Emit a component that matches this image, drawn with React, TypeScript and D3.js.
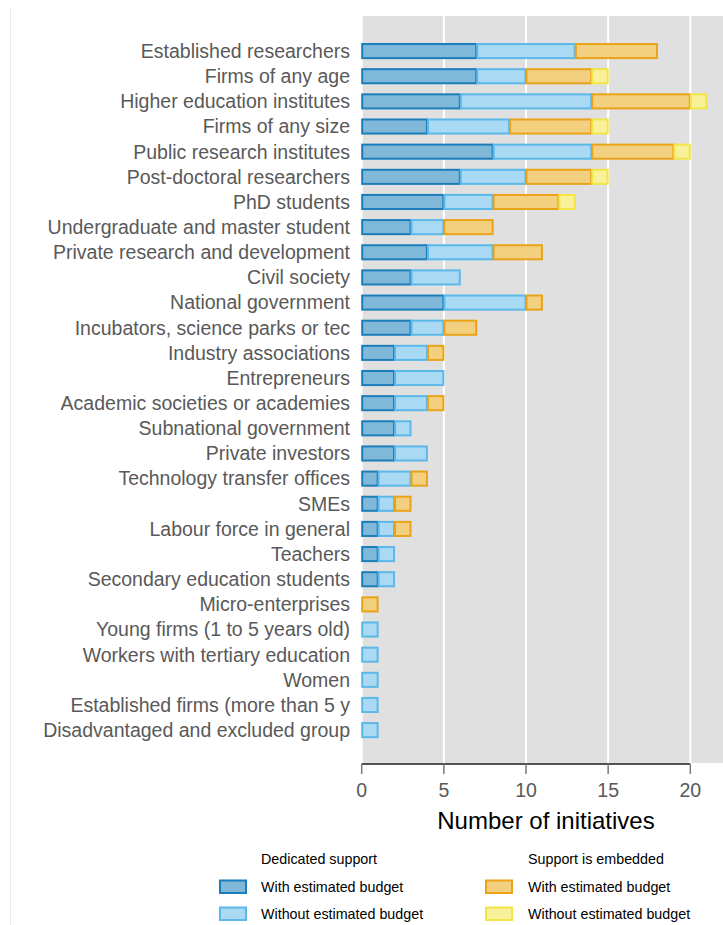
import React from "react";
import * as d3 from "d3";

const categories = [
  "Established researchers",
  "Firms of any age",
  "Higher education institutes",
  "Firms of any size",
  "Public research institutes",
  "Post-doctoral researchers",
  "PhD students",
  "Undergraduate and master student",
  "Private research and development",
  "Civil society",
  "National government",
  "Incubators, science parks or tec",
  "Industry associations",
  "Entrepreneurs",
  "Academic societies or academies",
  "Subnational government",
  "Private investors",
  "Technology transfer offices",
  "SMEs",
  "Labour force in general",
  "Teachers",
  "Secondary education students",
  "Micro-enterprises",
  "Young firms (1 to 5 years old)",
  "Workers with tertiary education",
  "Women",
  "Established firms (more than 5 y",
  "Disadvantaged and excluded group",
];

const dedicatedWithBudget = [7, 7, 6, 4, 8, 6, 5, 3, 4, 3, 5, 3, 2, 2, 2, 2, 2, 1, 1, 1, 1, 1, 0, 0, 0, 0, 0, 0];
const dedicatedWithoutBudget = [6, 3, 8, 5, 6, 4, 3, 2, 4, 3, 5, 2, 2, 3, 2, 1, 2, 2, 1, 1, 1, 1, 0, 1, 1, 1, 1, 1];
const embeddedWithBudget = [5, 4, 6, 5, 5, 4, 4, 3, 3, 0, 1, 2, 1, 0, 1, 0, 0, 1, 1, 1, 0, 0, 1, 0, 0, 0, 0, 0];
const embeddedWithoutBudget = [0, 1, 1, 1, 1, 1, 1, 0, 0, 0, 0, 0, 0, 0, 0, 0, 0, 0, 0, 0, 0, 0, 0, 0, 0, 0, 0, 0];

const xTicks = [0, 5, 10, 15, 20];

const seriesNames = [
  "Dedicated with budget",
  "Dedicated without budget",
  "Embedded with budget",
  "Embedded without budget",
];

const fills = ["#80b8da", "#a9d9f3", "#f3d080", "#f8f199"];
const strokes = ["#1b7dba", "#5cb8e9", "#e9a319", "#f2e547"];

const FONT = "'Liberation Sans', Arial, Helvetica, sans-serif";

export default function App() {
  const W = 723;
  const H = 925;
  const x = d3.scaleLinear().domain([0, 20]).range([361.7, 690.3]);
  const y = d3
    .scaleBand<string>()
    .domain(categories)
    .range([38.5, 742.7])
    .paddingInner(0.4)
    .paddingOuter(0.2);

  const rows = categories.map((c, i) => ({
    cat: c,
    v0: dedicatedWithBudget[i],
    v1: dedicatedWithoutBudget[i],
    v2: embeddedWithBudget[i],
    v3: embeddedWithoutBudget[i],
  }));
  const stack = d3.stack<any>().keys(["v0", "v1", "v2", "v3"])(rows);

  const panelTop = 16;
  const panelBottom = 763;
  const axisY = 764;

  const legendItems = [
    { col: 0, row: 0, s: 0, label: "With estimated budget" },
    { col: 0, row: 1, s: 1, label: "Without estimated budget" },
    { col: 1, row: 0, s: 2, label: "With estimated budget" },
    { col: 1, row: 1, s: 3, label: "Without estimated budget" },
  ];
  const legSwatchX = [219, 485];
  const legTextX = [261, 528];
  const legRowY = [879.5, 906.5];

  return (
    <svg
      width={W}
      height={H}
      style={{ position: "absolute", left: 0, top: 0, background: "#fff" }}
      fontFamily={FONT}
    >
      <line x1={10.5} x2={10.5} y1={9} y2={H} stroke="#e3ecec" strokeWidth={1} />
      <rect x={x(0) + 1} y={panelTop} width={W - x(0)} height={panelBottom - panelTop} fill="#e0e0e0" />
      {xTicks.slice(1).map((t) => (
        <line key={t} x1={x(t)} x2={x(t)} y1={panelTop} y2={panelBottom} stroke="#ffffff" strokeWidth={2} />
      ))}
      {stack.map((layer, si) =>
        layer.map((d, i) => {
          const w = x(d[1]) - x(d[0]);
          if (w <= 0) return null;
          return (
            <rect
              key={`${si}-${i}`}
              x={x(d[0]) + 0.5}
              y={(y(categories[i]) as number) + 0.5}
              width={w - 1}
              height={y.bandwidth() - 1}
              fill={fills[si]}
              stroke={strokes[si]}
              strokeWidth={2}
            />
          );
        })
      )}
      {categories.map((c) => (
        <text
          key={c}
          x={350}
          y={(y(c) as number) + y.bandwidth() / 2}
          dy="0.35em"
          textAnchor="end"
          fontSize={19.5}
          fill="#595959"
        >
          {c}
        </text>
      ))}
      <line x1={x(0)} x2={x(20)} y1={axisY} y2={axisY} stroke="#1a1a1a" strokeWidth={1.5} />
      {xTicks.map((t) => (
        <g key={t}>
          <line x1={x(t)} x2={x(t)} y1={axisY} y2={axisY + 10} stroke="#7a7a7a" strokeWidth={1.5} />
          <text x={x(t)} y={797} textAnchor="middle" fontSize={19.5} fill="#595959">
            {t}
          </text>
        </g>
      ))}
      <text x={546} y={829} textAnchor="middle" fontSize={24} fill="#000">
        Number of initiatives
      </text>
      <text x={legTextX[0]} y={864} fontSize={14.3} fill="#000">
        Dedicated support
      </text>
      <text x={legTextX[1]} y={864} fontSize={14.3} fill="#000">
        Support is embedded
      </text>
      {legendItems.map((it) => (
        <g key={seriesNames[it.s]}>
          <rect
            x={legSwatchX[it.col] + 1}
            y={legRowY[it.row] + 1}
            width={26}
            height={12.5}
            fill={fills[it.s]}
            stroke={strokes[it.s]}
            strokeWidth={2}
          />
          <text x={legTextX[it.col]} y={legRowY[it.row] + 12.3} fontSize={14.3} fill="#000">
            {it.label}
          </text>
        </g>
      ))}
    </svg>
  );
}
